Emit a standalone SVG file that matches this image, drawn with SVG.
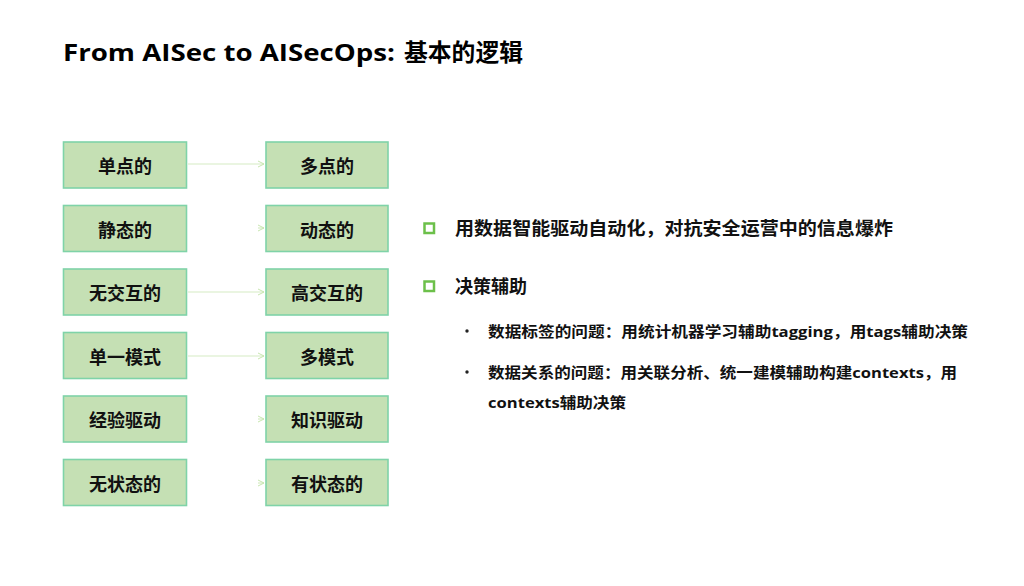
<svg xmlns="http://www.w3.org/2000/svg" width="1024" height="586" viewBox="0 0 1024 586">
<style>
.bg{fill:#ffffff}
.box{fill:#c5e0b4;stroke:#7fd3a8;stroke-width:1.6}
.bt{font-family:"Noto Sans CJK SC",sans-serif;font-weight:700;font-size:18px;fill:#111;text-anchor:middle;dominant-baseline:central}
.title{font-family:"Open Sans","Noto Sans CJK SC",sans-serif;font-weight:700;font-size:23.5px;fill:#000}
.l1{font-family:"Noto Sans CJK SC",sans-serif;font-weight:700;font-size:18px;fill:#111}
.l2{font-family:"Open Sans","Noto Sans CJK SC",sans-serif;font-weight:700;font-size:15px;fill:#111}
.conn{stroke:#d5ecc4;stroke-width:1.2;fill:none}
.sq{fill:none;stroke:#6cc04a;stroke-width:2.5}
</style>
<defs>
<marker id="ah" markerWidth="8" markerHeight="8" refX="7" refY="4" orient="auto" markerUnits="userSpaceOnUse">
<path d="M1,1 L7,4 L1,7" fill="none" stroke="#c8e6b0" stroke-width="1"/>
</marker>
</defs>
<rect class="bg" width="1024" height="586"/>
<text class="title" x="63" y="61" textLength="332" lengthAdjust="spacingAndGlyphs">From AISec to AISecOps:</text>
<text class="title" x="404" y="61" textLength="119" lengthAdjust="spacingAndGlyphs">基本的逻辑</text>

<g id="connectors">
<line class="conn" x1="188" y1="164" x2="264" y2="164" marker-end="url(#ah)"/>
<line class="conn" x1="258" y1="228" x2="264" y2="228" marker-end="url(#ah)"/>
<line class="conn" x1="188" y1="292" x2="264" y2="292" marker-end="url(#ah)"/>
<line class="conn" x1="188" y1="356" x2="264" y2="356" marker-end="url(#ah)"/>
<line class="conn" x1="258" y1="419" x2="264" y2="419" marker-end="url(#ah)"/>
<line class="conn" x1="258" y1="483" x2="264" y2="483" marker-end="url(#ah)"/>
</g>

<g id="n1"><rect class="box" x="63.5" y="142" width="123" height="46"/><text class="bt" x="125" y="165">单点的</text></g>
<g id="n2"><rect class="box" x="63.5" y="205.5" width="123" height="46"/><text class="bt" x="125" y="228.5">静态的</text></g>
<g id="n3"><rect class="box" x="63.5" y="269" width="123" height="46"/><text class="bt" x="125" y="292">无交互的</text></g>
<g id="n4"><rect class="box" x="63.5" y="332.5" width="123" height="46"/><text class="bt" x="125" y="355.5">单一模式</text></g>
<g id="n5"><rect class="box" x="63.5" y="396" width="123" height="46"/><text class="bt" x="125" y="419">经验驱动</text></g>
<g id="n6"><rect class="box" x="63.5" y="459.5" width="123" height="46"/><text class="bt" x="125" y="482.5">无状态的</text></g>

<g id="m1"><rect class="box" x="266" y="142" width="122" height="46"/><text class="bt" x="327" y="165">多点的</text></g>
<g id="m2"><rect class="box" x="266" y="205.5" width="122" height="46"/><text class="bt" x="327" y="228.5">动态的</text></g>
<g id="m3"><rect class="box" x="266" y="269" width="122" height="46"/><text class="bt" x="327" y="292">高交互的</text></g>
<g id="m4"><rect class="box" x="266" y="332.5" width="122" height="46"/><text class="bt" x="327" y="355.5">多模式</text></g>
<g id="m5"><rect class="box" x="266" y="396" width="122" height="46"/><text class="bt" x="327" y="419">知识驱动</text></g>
<g id="m6"><rect class="box" x="266" y="459.5" width="122" height="46"/><text class="bt" x="327" y="482.5">有状态的</text></g>

<g id="bullets">
<rect class="sq" x="424.5" y="223.5" width="9.5" height="9.5"/>
<text class="l1" x="455" y="234.5" textLength="438" lengthAdjust="spacingAndGlyphs">用数据智能驱动自动化，对抗安全运营中的信息爆炸</text>
<rect class="sq" x="424.5" y="281.5" width="9.5" height="9.5"/>
<text class="l1" x="455" y="292.5">决策辅助</text>
<circle cx="467" cy="331" r="1.7" fill="#222"/>
<text class="l2" x="488" y="336.5" textLength="480" lengthAdjust="spacingAndGlyphs">数据标签的问题：用统计机器学习辅助tagging，用tags辅助决策</text>
<circle cx="467" cy="372" r="1.7" fill="#222"/>
<text class="l2" x="488" y="377.5" textLength="469" lengthAdjust="spacingAndGlyphs">数据关系的问题：用关联分析、统一建模辅助构建contexts，用</text>
<text class="l2" x="488" y="407.5" textLength="138" lengthAdjust="spacingAndGlyphs">contexts辅助决策</text>
</g>
</svg>
